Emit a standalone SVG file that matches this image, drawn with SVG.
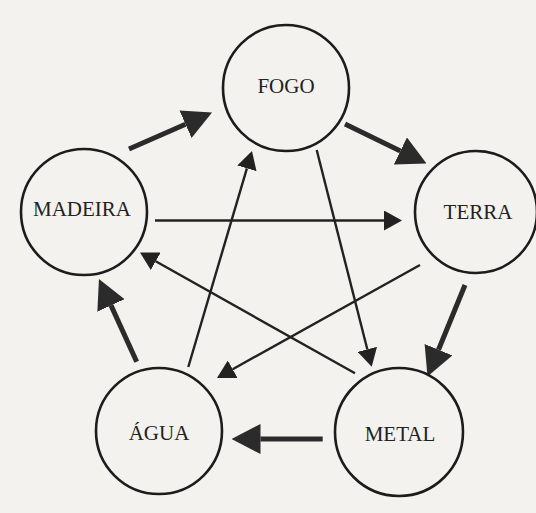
<svg xmlns="http://www.w3.org/2000/svg" width="536" height="513" viewBox="0 0 536 513">
<style>
.node circle{fill:none;stroke:#1c1c1c;stroke-width:2.6}
.node text{font-family:"Liberation Serif","Times New Roman",serif;font-size:21px;fill:#222;text-anchor:middle}
.thick{stroke:#2b2b2b;stroke-width:5;fill:none}
.thin{stroke:#222;stroke-width:2.4;fill:none}
</style>
<defs>
<marker id="bigHead" markerUnits="userSpaceOnUse" viewBox="0 0 29 30" refX="0" refY="15" markerWidth="29" markerHeight="30" orient="auto">
<path d="M0,0 L29,15 L0,30 Z" fill="#2b2b2b"/>
</marker>
<marker id="smallHead" markerUnits="userSpaceOnUse" viewBox="0 0 18 20" refX="0" refY="10" markerWidth="18" markerHeight="20" orient="auto">
<path d="M0,0 L18,10 L0,20 Z" fill="#222"/>
</marker>
</defs>
<rect width="536" height="513" fill="#f3f2ef"/>
<g id="connectors">
<line class="thick" x1="129" y1="149" x2="185.5" y2="124.2" marker-end="url(#bigHead)"/>
<line class="thick" x1="345" y1="124" x2="400.4" y2="150.9" marker-end="url(#bigHead)"/>
<line class="thick" x1="465" y1="285" x2="438.5" y2="349.7" marker-end="url(#bigHead)"/>
<line class="thick" x1="322.7" y1="439" x2="260.5" y2="439" marker-end="url(#bigHead)"/>
<line class="thick" x1="136.7" y1="361.7" x2="111" y2="305.4" marker-end="url(#bigHead)"/>
<line class="thin" x1="155" y1="220.5" x2="384" y2="220.5" marker-end="url(#smallHead)"/>
<line class="thin" x1="420" y1="265" x2="232.7" y2="369.2" marker-end="url(#smallHead)"/>
<line class="thin" x1="188.3" y1="367" x2="246.9" y2="168.3" marker-end="url(#smallHead)"/>
<line class="thin" x1="316.7" y1="150" x2="367.3" y2="349.3" marker-end="url(#smallHead)"/>
<line class="thin" x1="355" y1="373.3" x2="155.7" y2="261.3" marker-end="url(#smallHead)"/>
</g>
<g id="fogo" class="node"><circle cx="286" cy="88" r="63"/><text x="286" y="93">FOGO</text></g>
<g id="madeira" class="node"><circle cx="84" cy="212" r="63"/><text x="82" y="216">MADEIRA</text></g>
<g id="terra" class="node"><circle cx="476" cy="212" r="61"/><text x="478" y="219">TERRA</text></g>
<g id="agua" class="node"><circle cx="159" cy="431" r="63"/><text x="159" y="440">ÁGUA</text></g>
<g id="metal" class="node"><circle cx="399" cy="432" r="64"/><text x="400" y="441">METAL</text></g>
</svg>
